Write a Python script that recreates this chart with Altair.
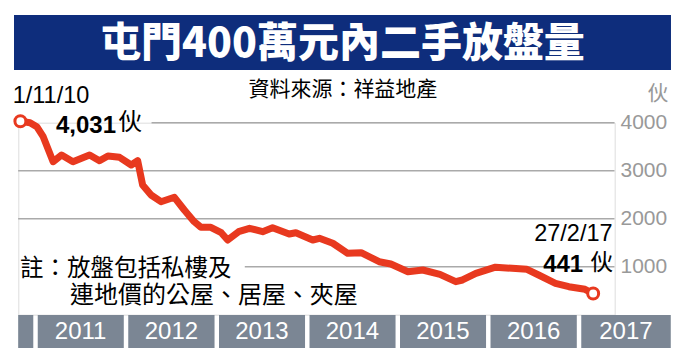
import altair as alt
import pandas as pd

# ---- data ----
dates = ["2010-11-01", "2010-12-10", "2011-01-06", "2011-02-01", "2011-03-13", "2011-04-16",
         "2011-06-01", "2011-08-07", "2011-09-16", "2011-10-20", "2011-12-06", "2012-01-22",
         "2012-02-17", "2012-03-08", "2012-04-11", "2012-05-21", "2012-07-14", "2012-08-23",
         "2012-10-02", "2012-10-29", "2012-12-08", "2013-01-19", "2013-02-14", "2013-03-30",
         "2013-05-13", "2013-07-05", "2013-08-14", "2013-10-20", "2013-11-16", "2014-01-23",
         "2014-02-19", "2014-04-14", "2014-06-13", "2014-08-06", "2014-10-18", "2014-12-04",
         "2015-02-11", "2015-04-12", "2015-06-20", "2015-08-23", "2015-09-19", "2015-11-12",
         "2016-01-30", "2016-04-06", "2016-06-05", "2016-07-22", "2016-09-28", "2016-11-21",
         "2017-01-25", "2017-02-27"]
values = [4031, 4000, 3917, 3708, 3188, 3327,
          3188, 3327, 3208, 3306, 3279, 3119,
          3208, 2702, 2494, 2354, 2446, 2181,
          1938, 1821, 1821, 1708, 1556, 1729,
          1800, 1729, 1813, 1681, 1708, 1556,
          1592, 1488, 1279, 1292, 1104, 1056,
          896, 931, 840, 688, 723, 862,
          990, 967, 946, 827, 654, 583,
          529, 441]

grid_values = [4000, 3000, 2000, 1000]
grid_starts = ["2012-04-13", "2010-10-23", "2010-10-23", "2013-04-24"]
grid_ends = ["2017-05-24", "2017-05-24", "2017-05-24", "2017-05-24"]

year_labels = ["", "2011", "2012", "2013", "2014", "2015", "2016", "2017"]
year_starts = ["2010-10-23", "2011-01-10", "2012-01-10", "2013-01-10", "2014-01-10",
               "2015-01-10", "2016-01-10", "2017-01-10"]
year_ends = ["2010-12-23", "2011-12-23", "2012-12-23", "2013-12-23", "2014-12-23",
             "2015-12-23", "2016-12-23", "2018-01-06"]

title_text = "屯門400萬元內二手放盤量"
source_text = "資料來源：祥益地產"
note_line1 = "註：放盤包括私樓及"
note_line2 = "連地價的公屋、居屋、夾屋"
unit_text = "伙"

# ---- styling ----
RED = "#e8391f"
NAVY = "#0e2d7c"
SLATE = "#7b8694"
GRID = "#aaaaaa"
GRAYTXT = "#999999"
CJK = "Noto Sans CJK TC"
LAT = "Liberation Sans"

W, H = 596.4, 192

df = pd.DataFrame({"date": dates, "value": values})
grid_df = pd.DataFrame({"value": grid_values, "start": grid_starts, "end": grid_ends})
years_df = pd.DataFrame({"label": year_labels, "start": pd.to_datetime(year_starts),
                         "end": pd.to_datetime(year_ends)})
years_df["mid"] = years_df["start"] + (years_df["end"] - years_df["start"]) / 2
years_df["start"] = years_df["start"].dt.strftime("%Y-%m-%d")
years_df["end"] = years_df["end"].dt.strftime("%Y-%m-%d")
years_df["mid"] = years_df["mid"].dt.strftime("%Y-%m-%d")
first_df = df.iloc[[0]].reset_index(drop=True)
last_df = df.iloc[[-1]].reset_index(drop=True)
one = pd.DataFrame({"k": [0]})

xscale = alt.Scale(type="utc", domain=[alt.DateTime(year=2010, month=10, date=23, hours=14, utc=True),
                                        alt.DateTime(year=2017, month=5, date=24, hours=19, utc=True)])
yscale = alt.Scale(domain=[0, 4000], nice=False, zero=True)

X = lambda f: alt.X(f"{f}:T", scale=xscale, axis=None)

title_bar = alt.Chart(one).mark_rect(color=NAVY).encode(
    x=alt.value(-4.3), x2=alt.value(652.7), y=alt.value(-107.7), y2=alt.value(-52.7))
title = alt.Chart(one).mark_text(text=title_text, font=CJK, fontSize=41, fontWeight=900,
                                 color="white", align="center", baseline="alphabetic").encode(
    x=alt.value(324.2), y=alt.value(-65.5))
source = alt.Chart(one).mark_text(text=source_text, font=CJK, fontSize=21, color="black",
                                  align="center", baseline="alphabetic").encode(
    x=alt.value(324.6), y=alt.value(-26.7))

grid = alt.Chart(grid_df).mark_rule(color=GRID, strokeWidth=1.5).encode(
    x=X("start"), x2="end:T",
    y=alt.Y("value:Q", scale=yscale,
            axis=alt.Axis(orient="right", values=grid_values, format="d", grid=False,
                          domain=False, ticks=False, labelPadding=5.3, labelFont=LAT,
                          labelFontSize=21, labelColor=GRAYTXT, labelBaseline="middle",
                          title=unit_text, titleAngle=0, titleX=42.8, titleY=-22.7,
                          titleAlign="center", titleBaseline="alphabetic", titleFont=CJK,
                          titleFontSize=21, titleFontWeight="normal", titleColor=GRAYTXT)))

year_bar = alt.Chart(years_df).mark_rect(color=SLATE).encode(
    x=X("start"), x2="end:T", y=alt.value(H + 0.3), y2=alt.value(H + 33.3))
year_text = alt.Chart(years_df).mark_text(font=LAT, fontSize=24, color="white",
                                          align="center", baseline="middle").encode(
    x=X("mid"), y=alt.value(H + 17.3), text="label:N")

line = alt.Chart(df).mark_line(color=RED, strokeWidth=7, strokeJoin="round",
                               strokeCap="round").encode(
    x=X("date"), y=alt.Y("value:Q", scale=yscale))
ends = alt.Chart(pd.concat([first_df, last_df])).mark_point(
    shape="circle", filled=True, fill="white", stroke=RED, strokeWidth=3, size=120, opacity=1).encode(
    x=X("date"), y=alt.Y("value:Q", scale=yscale))

def label(data, text, font, size, weight, align, dx, dy):
    return alt.Chart(data).mark_text(text=text, font=font, fontSize=size, fontWeight=weight,
                                     color="black", align=align, baseline="alphabetic",
                                     dx=dx, dy=dy).encode(
        x=X("date"), y=alt.Y("value:Q", scale=yscale))

start_date = label(first_df, "1/11/10", LAT, 23.5, "normal", "left", -7.7, -18.5)
start_val = label(first_df, "4,031", LAT, 24, "bold", "right", 95.6, 11.5)
start_unit = label(first_df, unit_text, CJK, 24, "normal", "left", 97.9, 9.2)
end_date = label(last_df, "27/2/17", LAT, 23.5, "normal", "right", 19.4, -52.3)
end_val = label(last_df, "441", LAT, 24, "bold", "right", -10, -21.8)
end_unit = label(last_df, unit_text, CJK, 23, "normal", "left", -3.0, -23.6)

note1 = alt.Chart(one).mark_text(text=note_line1, font=CJK, fontSize=23.5, color="black",
                                 align="left", baseline="alphabetic").encode(
    x=alt.value(1.7), y=alt.value(153.0))
note2 = alt.Chart(one).mark_text(text=note_line2, font=CJK, fontSize=24, color="black",
                                 align="left", baseline="alphabetic").encode(
    x=alt.value(51.7), y=alt.value(180.5))

chart = alt.layer(
    title_bar, title, source, grid, year_bar, year_text, line, ends,
    start_date, start_val, start_unit, end_date, end_val, end_unit, note1, note2
).properties(
    width=W, height=H, autosize="none",
    padding={"left": 10.3, "top": 114.7, "right": 64, "bottom": 39}
).configure_view(stroke=None).configure(background="white")

chart.save("out.html", embed_options={"renderer": "svg", "actions": False})
